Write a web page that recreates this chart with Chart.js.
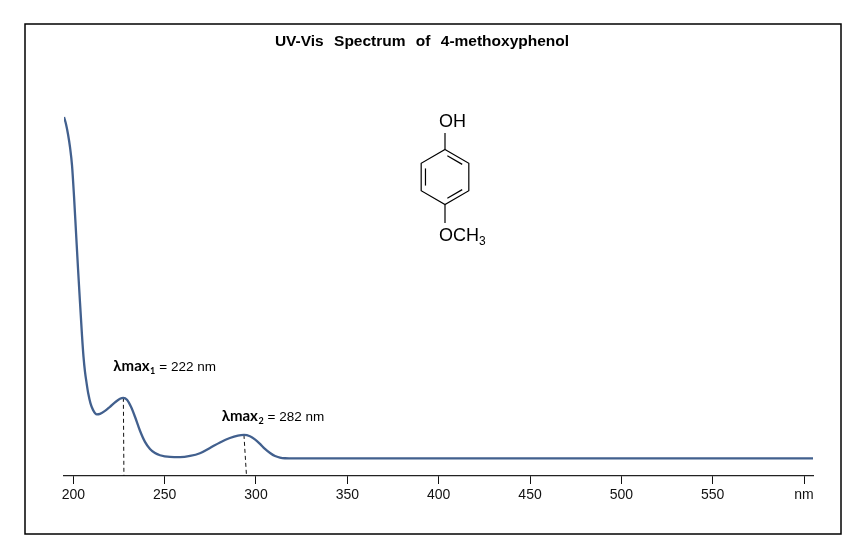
<!DOCTYPE html>
<html>
<head>
<meta charset="utf-8">
<script src="https://cdn.jsdelivr.net/npm/chart.js@4.4.0/dist/chart.umd.min.js"></script>
<style>
  html, body { margin: 0; padding: 0; background: #fff; }
  #wrap { width: 864px; height: 553px; position: relative; }
</style>
</head>
<body>
<div id="wrap"><canvas id="c"></canvas></div>
<script>
// ---- data ----
const wavelengths = [194.91, 196.01, 197.10, 198.19, 199.29, 200.38, 201.48, 202.57, 203.67, 204.76, 205.58, 206.40,
  207.33, 208.21, 209.41, 210.78, 212.80, 214.61, 217.35, 220.08, 222.82, 225.55, 227.36, 229.38, 231.57, 233.76,
  236.5, 239.23, 241.97, 244.71, 247.44, 252.9, 258.4, 263.9, 269.3, 274.8, 280.3, 285.7, 290.1, 293.4, 296.7,
  299.4, 302.2, 304.9, 307.7, 310.4, 313.1, 315.8, 321.3, 350, 400, 450, 500, 550, 600, 604.9];
const absorbance = [1.048, 1.027, 0.998, 0.960, 0.907, 0.817, 0.711, 0.606, 0.506, 0.410, 0.348, 0.304,
  0.269, 0.240, 0.212, 0.193, 0.180, 0.1815, 0.190, 0.202, 0.215, 0.2254, 0.2283, 0.2224, 0.202, 0.173,
  0.132, 0.0995, 0.079, 0.067, 0.0606, 0.0556, 0.055, 0.0585, 0.0664, 0.082, 0.098, 0.111, 0.118, 0.120, 0.116,
  0.107, 0.0937, 0.079, 0.0673, 0.0585, 0.0539, 0.0518, 0.0512, 0.0512, 0.0512, 0.0512, 0.0512, 0.0512, 0.0512, 0.0512];
const xTicks = [200, 250, 300, 350, 400, 450, 500, 550, 600];
const tickLabels = ['200', '250', '300', '350', '400', '450', '500', '550', 'nm'];
const peakTopX = [227.4, 293.4];
const peakBottomX = [227.7, 294.8];
const peakAbs = [0.2283, 0.120];
const peakSubscripts = ['1', '2'];
const peakValues = ['222', '282'];
const titleText = 'UV-Vis Spectrum of 4-methoxyphenol';

// ---- chart ----
const dropSets = peakTopX.map((x, i) => ({
  data: [{x: x, y: peakAbs[i]}, {x: peakBottomX[i], y: 0}],
  borderColor: '#111', borderWidth: 1, borderDash: [4, 3],
  pointRadius: 0, fill: false, tension: 0
}));

const decor = {
  id: 'decor',
  beforeDraw(chart) {
    const ctx = chart.ctx;
    ctx.save();
    ctx.fillStyle = '#fff';
    ctx.fillRect(0, 0, chart.width, chart.height);
    ctx.restore();
  },
  afterDraw(chart) {
    const ctx = chart.ctx;
    const xs = chart.scales.x, ys = chart.scales.y;
    ctx.save();
    // frame
    ctx.strokeStyle = '#000';
    ctx.lineWidth = 1.5;
    ctx.strokeRect(25, 24, 816, 510);
    // title
    ctx.fillStyle = '#000';
    ctx.font = 'bold 15.5px "Liberation Sans", Arial, sans-serif';
    ctx.textAlign = 'center';
    ctx.textBaseline = 'alphabetic';
    try { ctx.wordSpacing = '6px'; } catch (e) {}
    ctx.fillText(titleText, 422, 46);
    try { ctx.wordSpacing = '0px'; } catch (e) {}
    // peak labels
    const offs = [[-10, -26.5], [-22.3, -14]];
    ctx.textAlign = 'left';
    peakTopX.forEach((px, i) => {
      const x0 = xs.getPixelForValue(px) + offs[i][0];
      const y0 = ys.getPixelForValue(peakAbs[i]) + offs[i][1];
      ctx.font = 'bold 15px Lato, "Liberation Sans", sans-serif';
      ctx.fillText('λmax', x0, y0);
      const w1 = ctx.measureText('λmax').width;
      ctx.font = 'bold 9px Lato, "Liberation Sans", sans-serif';
      ctx.fillText(peakSubscripts[i], x0 + w1 + 0.5, y0 + 3);
      const w2 = ctx.measureText(peakSubscripts[i]).width;
      ctx.font = '13.5px "Liberation Sans", Arial, sans-serif';
      ctx.fillText('= ' + peakValues[i] + ' nm', x0 + w1 + w2 + 4.5, y0);
    });
    // molecule
    const cx = 445, cy = 177, R = 27.5;
    const v = [];
    for (let k = 0; k < 6; k++) {
      const a = -Math.PI / 2 + k * Math.PI / 3;
      v.push([cx + R * Math.cos(a), cy + R * Math.sin(a)]);
    }
    ctx.strokeStyle = '#000';
    ctx.lineWidth = 1.2;
    ctx.beginPath();
    v.forEach((p, k) => k ? ctx.lineTo(p[0], p[1]) : ctx.moveTo(p[0], p[1]));
    ctx.closePath();
    ctx.stroke();
    [[0, 1], [2, 3], [4, 5]].forEach(([a, b]) => {
      const ax = v[a][0] + (cx - v[a][0]) * 0.18, ay = v[a][1] + (cy - v[a][1]) * 0.18;
      const bx = v[b][0] + (cx - v[b][0]) * 0.18, by = v[b][1] + (cy - v[b][1]) * 0.18;
      const sx = ax + (bx - ax) * 0.12, sy = ay + (by - ay) * 0.12;
      const ex = ax + (bx - ax) * 0.88, ey = ay + (by - ay) * 0.88;
      ctx.beginPath(); ctx.moveTo(sx, sy); ctx.lineTo(ex, ey); ctx.stroke();
    });
    ctx.beginPath();
    ctx.moveTo(v[0][0], v[0][1]); ctx.lineTo(cx, 133);
    ctx.moveTo(v[3][0], v[3][1]); ctx.lineTo(cx, 223);
    ctx.stroke();
    ctx.fillStyle = '#000';
    ctx.font = '18px "Liberation Sans", Arial, sans-serif';
    ctx.fillText('OH', 439, 127);
    ctx.fillText('OCH', 439, 241);
    const w3 = ctx.measureText('OCH').width;
    ctx.font = '12px "Liberation Sans", Arial, sans-serif';
    ctx.fillText('3', 439 + w3, 245);
    ctx.restore();
  }
};

new Chart(document.getElementById('c'), {
  type: 'line',
  data: {
    datasets: [
      {
        data: wavelengths.map((x, i) => ({x: x, y: absorbance[i]})),
        borderColor: '#42608e', borderWidth: 2.3,
        pointRadius: 0, fill: false, cubicInterpolationMode: 'monotone'
      },
      ...dropSets
    ]
  },
  options: {
    responsive: true,
    maintainAspectRatio: false,
    animation: false,
    layout: { padding: { left: 64, right: 51, top: 65, bottom: 0 } },
    plugins: { legend: { display: false }, tooltip: { enabled: false }, title: { display: false } },
    scales: {
      x: {
        type: 'linear', min: 194.9, max: 604.9,
        afterBuildTicks: s => { s.ticks = xTicks.map(t => ({value: t})); },
        afterFit: s => { s.height = 77; },
        grid: { drawOnChartArea: false, drawTicks: true, tickLength: 8, tickColor: '#111', lineWidth: 1 },
        border: { display: true, color: '#222', width: 1.2 },
        ticks: {
          padding: 3, color: '#111', autoSkip: false, maxRotation: 0,
          font: { family: '"Liberation Sans", Arial, sans-serif', size: 14 },
          callback: (val) => { const i = xTicks.indexOf(val); return i >= 0 ? tickLabels[i] : ''; }
        }
      },
      y: { type: 'linear', min: 0, max: 1.2, display: false }
    }
  },
  plugins: [decor]
});
</script>
</body>
</html>
